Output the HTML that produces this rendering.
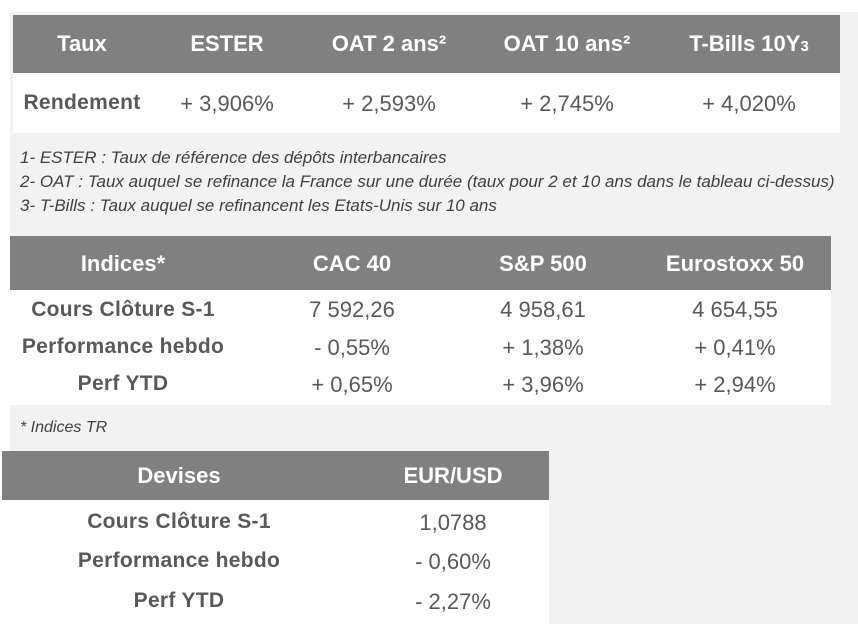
<!DOCTYPE html>
<html><head><meta charset="utf-8"><style>
body{margin:0;width:858px;height:624px;position:relative;background:#fff;font-family:"Liberation Sans",sans-serif;overflow:hidden}
.abs{position:absolute}
.panel{left:10px;top:12px;width:848px;height:612px;background:#f2f2f2}
.hdr{background:#808080;color:#fff;font-weight:bold;font-size:22px}
.body{background:#fff;color:#595959}
.c{position:absolute;transform:translate(-50%,-50%);white-space:nowrap}
.lab{font-weight:bold;font-size:21px;letter-spacing:0.3px}
.val{font-size:22px}
.note{font-style:italic;font-size:17px;color:#404040;white-space:nowrap}
</style></head><body>
<div class="abs panel"></div>

<div class="abs hdr" style="left:13px;top:15px;width:827px;height:58px">
<span class="c" style="left:69px;top:29px">Taux</span>
<span class="c" style="left:214px;top:29px">ESTER</span>
<span class="c" style="left:376px;top:29px">OAT 2 ans²</span>
<span class="c" style="left:554px;top:29px">OAT 10 ans²</span>
<span class="c" style="left:736px;top:29px">T-Bills 10Y<span style="font-size:15px">3</span></span>
</div>
<div class="abs body" style="left:13px;top:73px;width:827px;height:60px">
<span class="c lab" style="left:69px;top:30px">Rendement</span>
<span class="c val" style="left:214px;top:31px">+ 3,906%</span>
<span class="c val" style="left:376px;top:31px">+ 2,593%</span>
<span class="c val" style="left:554px;top:31px">+ 2,745%</span>
<span class="c val" style="left:736px;top:31px">+ 4,020%</span>
</div>

<div class="abs note" style="left:20px;top:148px">1- ESTER : Taux de référence des dépôts interbancaires</div>
<div class="abs note" style="left:20px;top:172px">2- OAT : Taux auquel se refinance la France sur une durée (taux pour 2 et 10 ans dans le tableau ci-dessus)</div>
<div class="abs note" style="left:20px;top:196px">3- T-Bills : Taux auquel se refinancent les Etats-Unis sur 10 ans</div>

<div class="abs hdr" style="left:10px;top:236px;width:821px;height:54px">
<span class="c" style="left:113px;top:28px">Indices*</span>
<span class="c" style="left:342px;top:28px">CAC 40</span>
<span class="c" style="left:533px;top:28px">S&amp;P 500</span>
<span class="c" style="left:725px;top:28px">Eurostoxx 50</span>
</div>
<div class="abs body" style="left:10px;top:290px;width:821px;height:115px">
<span class="c lab" style="left:113px;top:20px">Cours Clôture S-1</span>
<span class="c val" style="left:342px;top:20px">7 592,26</span>
<span class="c val" style="left:533px;top:20px">4 958,61</span>
<span class="c val" style="left:725px;top:20px">4 654,55</span>
<span class="c lab" style="left:113px;top:57px">Performance hebdo</span>
<span class="c val" style="left:342px;top:58px">- 0,55%</span>
<span class="c val" style="left:533px;top:58px">+ 1,38%</span>
<span class="c val" style="left:725px;top:58px">+ 0,41%</span>
<span class="c lab" style="left:113px;top:94px">Perf YTD</span>
<span class="c val" style="left:342px;top:95px">+ 0,65%</span>
<span class="c val" style="left:533px;top:95px">+ 3,96%</span>
<span class="c val" style="left:725px;top:95px">+ 2,94%</span>
</div>

<div class="abs note" style="left:20px;top:419px;font-size:16px">* Indices TR</div>

<div class="abs hdr" style="left:2px;top:451px;width:547px;height:49px">
<span class="c" style="left:177px;top:25px">Devises</span>
<span class="c" style="left:451px;top:25px">EUR/USD</span>
</div>
<div class="abs body" style="left:2px;top:500px;width:547px;height:117px">
<span class="c lab" style="left:177px;top:22px">Cours Clôture S-1</span>
<span class="c val" style="left:451px;top:23px">1,0788</span>
<span class="c lab" style="left:177px;top:61px">Performance hebdo</span>
<span class="c val" style="left:451px;top:62px">- 0,60%</span>
<span class="c lab" style="left:177px;top:101px">Perf YTD</span>
<span class="c val" style="left:451px;top:102px">- 2,27%</span>
</div>
<div class="abs" style="left:0;top:617px;width:549px;height:7px;background:#fff"></div>
</body></html>
